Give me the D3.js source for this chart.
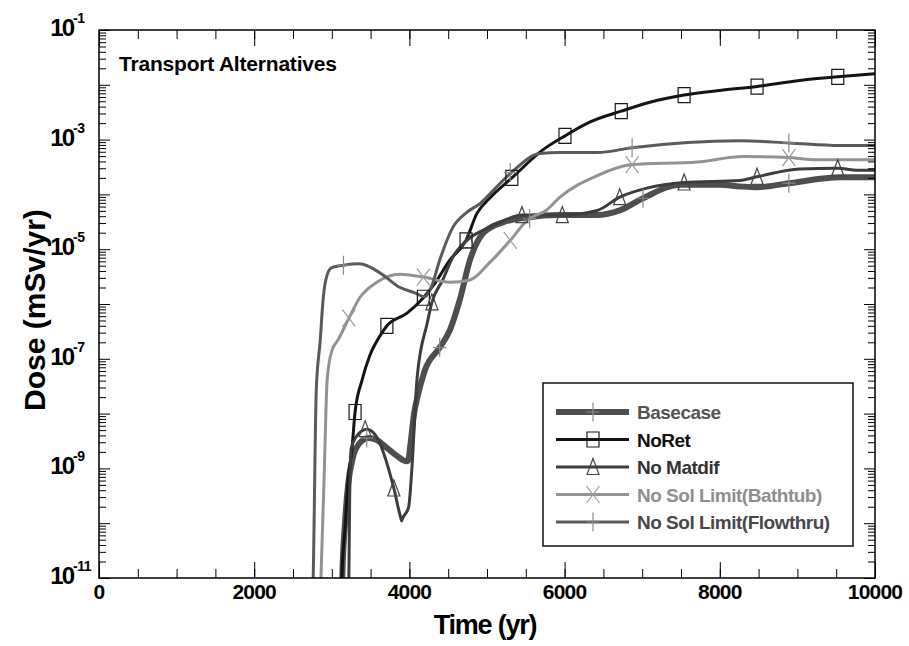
<!DOCTYPE html>
<html>
<head>
<meta charset="utf-8">
<script src="https://cdn.jsdelivr.net/npm/d3@7"></script>
<style>
  html, body { margin: 0; padding: 0; background: #fff; }
  svg { display: block; font-family: "Liberation Sans", Arial, sans-serif; font-weight: bold; }
</style>
</head>
<body>
<svg id="chart" width="909" height="646"></svg>
<script>
// ---- data: time (yr) and dose (mSv/yr) per transport alternative ----
const baseT = [3120, 3135, 3170, 3210, 3270, 3350, 3470, 3580, 3690, 3850, 3960, 3985, 4010, 4060, 4110, 4200, 4390, 4520, 4650, 4780, 4950, 5210, 5520, 5940, 6420, 6710, 7010, 7490, 8000, 8260, 8480, 8890, 9550, 10000];
const baseD = [1e-12, 1e-11, 1e-10, 5e-10, 1.55e-9, 2.8e-9, 3.6e-9, 3.3e-9, 2.5e-9, 1.65e-9, 1.35e-9, 1.4e-9, 2.5e-9, 1e-8, 2.2e-8, 6.2e-8, 1.6e-7, 3.3e-7, 1.2e-6, 6.3e-6, 1.95e-5, 3.1e-5, 3.8e-5, 4.2e-5, 4.2e-5, 5.1e-5, 8.5e-5, 1.5e-4, 1.5e-4, 1.4e-4, 1.35e-4, 1.6e-4, 2.05e-4, 2.05e-4];
const baseMarkT = [3450, 4390, 5550, 7010, 8890];
const baseMarkD = [3.6e-9, 1.6e-7, 3.6e-5, 8.5e-5, 1.6e-4];

const noRetT = [3120, 3130, 3170, 3210, 3260, 3300, 3390, 3490, 3620, 3710, 3970, 4180, 4330, 4520, 4730, 4870, 5040, 5320, 5720, 6005, 6330, 6730, 7100, 7540, 8000, 8480, 9030, 9520, 10000];
const noRetD = [1e-12, 1e-11, 8e-11, 6e-10, 2.3e-9, 1.07e-8, 4.1e-8, 1.15e-7, 2.6e-7, 4.0e-7, 6.8e-7, 1.3e-6, 2.4e-6, 6.3e-6, 1.45e-5, 4.5e-5, 8.7e-5, 2.0e-4, 6.5e-4, 1.17e-3, 2.1e-3, 3.3e-3, 4.8e-3, 6.5e-3, 7.9e-3, 9.3e-3, 1.2e-2, 1.4e-2, 1.6e-2];
const noRetMarkT = [3300, 3710, 4180, 4730, 5320, 6005, 6730, 7540, 8480, 9520];
const noRetMarkD = [1.07e-8, 4.0e-7, 1.3e-6, 1.45e-5, 2.0e-4, 1.17e-3, 3.3e-3, 6.5e-3, 9.3e-3, 1.4e-2];

const matdifT = [3210, 3220, 3230, 3250, 3310, 3450, 3560, 3800, 3885, 3900, 3915, 3990, 4030, 4100, 4230, 4290, 4430, 4560, 4740, 5000, 5170, 5450, 5970, 6420, 6710, 7060, 7540, 8260, 8480, 9030, 9520, 9770, 10000];
const matdifD = [1e-12, 1e-11, 2.6e-10, 2.3e-9, 3.7e-9, 5.2e-9, 4.1e-9, 4.3e-10, 1.3e-10, 1.1e-10, 1.25e-10, 1.95e-10, 9e-10, 4.6e-8, 4.5e-7, 1.07e-6, 2.75e-6, 7.2e-6, 1.45e-5, 2.4e-5, 3.1e-5, 4.2e-5, 4.2e-5, 5.1e-5, 8.9e-5, 1.3e-4, 1.65e-4, 1.8e-4, 2.1e-4, 2.9e-4, 3.0e-4, 2.75e-4, 2.75e-4];
const matdifMarkT = [3430, 3800, 4290, 4760, 5450, 5970, 6710, 7540, 8480, 9520];
const matdifMarkD = [5.2e-9, 4.3e-10, 1.07e-6, 1.45e-5, 4.2e-5, 4.2e-5, 8.9e-5, 1.65e-4, 2.1e-4, 3.0e-4];

const bathT = [2840, 2860, 2900, 2940, 3000, 3080, 3220, 3360, 3580, 3880, 4180, 4520, 4780, 5040, 5300, 5520, 5770, 5940, 6420, 6870, 7710, 8300, 8890, 9200, 10000];
const bathD = [1e-12, 1e-11, 6e-10, 4.1e-8, 1.4e-7, 2.2e-7, 5.5e-7, 1.3e-6, 2.5e-6, 3.5e-6, 3.1e-6, 2.5e-6, 2.75e-6, 5.8e-6, 1.45e-5, 3.4e-5, 5.2e-5, 8.9e-5, 2.2e-4, 3.5e-4, 3.9e-4, 4.9e-4, 4.7e-4, 4.3e-4, 4.3e-4];
const bathMarkT = [3220, 4180, 5300, 6870, 8890];
const bathMarkD = [5.5e-7, 3.1e-6, 1.45e-5, 3.5e-4, 4.7e-4];

const flowT = [2740, 2760, 2800, 2850, 2890, 2940, 3000, 3150, 3360, 3620, 3880, 4070, 4200, 4280, 4390, 4560, 4740, 4910, 5170, 5340, 5680, 5940, 6420, 6870, 8260, 8890, 9550, 10000];
const flowD = [1e-12, 1e-11, 2.7e-8, 2.1e-7, 1.3e-6, 3.4e-6, 4.6e-6, 5.1e-6, 5.4e-6, 3.7e-6, 2.0e-6, 1.6e-6, 1.35e-6, 2.0e-6, 6.3e-6, 2.5e-5, 4.7e-5, 6.8e-5, 1.6e-4, 2.7e-4, 5.6e-4, 5.8e-4, 5.8e-4, 7.1e-4, 9.5e-4, 8.7e-4, 7.8e-4, 7.8e-4];
const flowMarkT = [3150, 5300, 6870, 8890];
const flowMarkD = [5.1e-6, 2.5e-4, 7.1e-4, 8.7e-4];

const seriesNames = ["Basecase", "NoRet", "No Matdif", "No Sol Limit(Bathtub)", "No Sol Limit(Flowthru)"];
const xTickLabels = ["0", "2000", "4000", "6000", "8000", "10000"];
const yLabelExponents = ["-1", "-3", "-5", "-7", "-9", "-11"];
const chartTitle = "Transport Alternatives";

// ---- layout ----
const plot = { left: 99, right: 875, top: 30, bottom: 578 };
const svg = d3.select("#chart");

const x = d3.scaleLinear().domain([0, 10000]).range([plot.left, plot.right]);
const y = d3.scaleLog().domain([1e-11, 1e-1]).range([plot.bottom, plot.top]);

const styles = [
  { t: baseT, d: baseD, mt: baseMarkT, md: baseMarkD, color: "#4e4e4e", width: 6, marker: "plus", mcolor: "#8a8a8a", text: "#555555" },
  { t: noRetT, d: noRetD, mt: noRetMarkT, md: noRetMarkD, color: "#141414", width: 3, marker: "square", mcolor: "#1a1a1a", text: "#111111" },
  { t: matdifT, d: matdifD, mt: matdifMarkT, md: matdifMarkD, color: "#3d3d3d", width: 3, marker: "triangle", mcolor: "#444444", text: "#333333" },
  { t: bathT, d: bathD, mt: bathMarkT, md: bathMarkD, color: "#939393", width: 3, marker: "cross", mcolor: "#9a9a9a", text: "#8f8f8f" },
  { t: flowT, d: flowD, mt: flowMarkT, md: flowMarkD, color: "#5a5a5a", width: 3, marker: "plus", mcolor: "#8a8a8a", text: "#484848" }
];

// marker shapes (w x h box, hollow)
const MW = 13, MH = 17;
function markerPath(kind, cx, cy) {
  const p = d3.path();
  const hw = MW / 2, hh = MH / 2;
  if (kind === "square") {
    p.rect(cx - hw + 0.5, cy - hh + 1, MW - 1, MH - 2);
  } else if (kind === "triangle") {
    p.moveTo(cx, cy - hh); p.lineTo(cx + hw - 0.5, cy + hh - 1); p.lineTo(cx - hw + 0.5, cy + hh - 1); p.closePath();
  } else if (kind === "cross") {
    p.moveTo(cx - hw, cy - hh); p.lineTo(cx + hw, cy + hh);
    p.moveTo(cx + hw, cy - hh); p.lineTo(cx - hw, cy + hh);
  } else {
    p.moveTo(cx, cy - hh - 1); p.lineTo(cx, cy + hh + 1);
    p.moveTo(cx - hw, cy); p.lineTo(cx + hw, cy);
  }
  return p.toString();
}

svg.append("defs").append("clipPath").attr("id", "plotClip")
  .append("rect")
  .attr("x", plot.left).attr("y", plot.top)
  .attr("width", plot.right - plot.left).attr("height", plot.bottom - plot.top);

// ---- curves ----
const line = d3.line()
  .x(p => x(p[0]))
  .y(p => y(p[1]))
  .curve(d3.curveMonotoneX);

const curves = svg.append("g").attr("clip-path", "url(#plotClip)");
styles.forEach(s => {
  const pts = s.t.map((t, i) => [t, s.d[i]]);
  curves.append("path")
    .attr("d", line(pts))
    .attr("fill", "none")
    .attr("stroke", s.color)
    .attr("stroke-width", s.width)
    .attr("stroke-linejoin", "round");
});
styles.forEach(s => {
  s.mt.forEach((t, i) => {
    curves.append("path")
      .attr("d", markerPath(s.marker, x(t), y(s.md[i])))
      .attr("fill", "none")
      .attr("stroke", s.mcolor)
      .attr("stroke-width", 1.2);
  });
});

// ---- axes (ticks point inward on all four sides) ----
const xMinor = d3.range(0, 10001, 500);
const xMajor = d3.range(0, 10001, 2000);
const yAll = y.ticks(20);
const isDecade = v => Math.abs(Math.log10(v) - Math.round(Math.log10(v))) < 1e-6;
const yMajor = yAll.filter(isDecade);
const yMinor = yAll.filter(v => !isDecade(v));

function styleAxis(g) {
  g.select(".domain").remove();
  g.selectAll(".tick line").attr("stroke", "#000").attr("stroke-width", 1);
}

const tickSet = [
  { axis: d3.axisBottom(x).tickValues(xMinor).tickSize(-9), tr: `translate(0,${plot.bottom})` },
  { axis: d3.axisBottom(x).tickValues(xMajor).tickSize(-16), tr: `translate(0,${plot.bottom})` },
  { axis: d3.axisTop(x).tickValues(xMinor).tickSize(-9), tr: `translate(0,${plot.top})` },
  { axis: d3.axisTop(x).tickValues(xMajor).tickSize(-16), tr: `translate(0,${plot.top})` },
  { axis: d3.axisLeft(y).tickValues(yMinor).tickSize(-7), tr: `translate(${plot.left},0)` },
  { axis: d3.axisLeft(y).tickValues(yMajor).tickSize(-11), tr: `translate(${plot.left},0)` },
  { axis: d3.axisRight(y).tickValues(yMinor).tickSize(-7), tr: `translate(${plot.right},0)` },
  { axis: d3.axisRight(y).tickValues(yMajor).tickSize(-11), tr: `translate(${plot.right},0)` }
];
tickSet.forEach(ts => {
  const g = svg.append("g").attr("transform", ts.tr).call(ts.axis.tickFormat(""));
  styleAxis(g);
});

// frame
svg.append("rect")
  .attr("x", plot.left).attr("y", plot.top)
  .attr("width", plot.right - plot.left).attr("height", plot.bottom - plot.top)
  .attr("fill", "none").attr("stroke", "#000").attr("stroke-width", 1.5);

// x tick labels
svg.append("g").selectAll("text")
  .data(xMajor)
  .join("text")
  .attr("x", d => x(d))
  .attr("y", 599)
  .attr("text-anchor", "middle")
  .attr("font-size", 21)
  .attr("letter-spacing", -0.8)
  .attr("fill", "#000")
  .text((d, i) => xTickLabels[i]);

// y tick labels: 10 with superscript exponent
const yLab = svg.append("g");
yLabelExponents.forEach(e => {
  const v = Math.pow(10, +e);
  const yy = y(v);
  yLab.append("text")
    .attr("x", 73).attr("y", yy + 6)
    .attr("text-anchor", "end")
    .attr("font-size", 24)
    .attr("letter-spacing", -2)
    .attr("fill", "#000")
    .text("10");
  yLab.append("text")
    .attr("x", 73).attr("y", yy - 7)
    .attr("font-size", 14)
    .attr("letter-spacing", -0.5)
    .attr("fill", "#000")
    .text(e);
});

// axis titles
svg.append("text")
  .attr("x", 485).attr("y", 634)
  .attr("text-anchor", "middle")
  .attr("font-size", 27)
  .attr("letter-spacing", -1.2)
  .attr("fill", "#000")
  .text("Time (yr)");

svg.append("text")
  .attr("transform", "translate(45,310) rotate(-90)")
  .attr("text-anchor", "middle")
  .attr("font-size", 30)
  .attr("fill", "#000")
  .text("Dose (mSv/yr)");

// chart title inside the plot
svg.append("text")
  .attr("x", 119).attr("y", 71)
  .attr("font-size", 21)
  .attr("letter-spacing", -0.2)
  .attr("fill", "#000")
  .text(chartTitle);

// ---- legend ----
const legend = svg.append("g");
legend.append("rect")
  .attr("x", 543).attr("y", 383).attr("width", 310).attr("height", 163)
  .attr("fill", "#fff").attr("stroke", "#111").attr("stroke-width", 1.5);
const rowY = i => 412 + i * 27.5;
styles.forEach((s, i) => {
  const yy = rowY(i);
  legend.append("line")
    .attr("x1", 556).attr("x2", 629).attr("y1", yy).attr("y2", yy)
    .attr("stroke", s.color).attr("stroke-width", s.width);
  legend.append("path")
    .attr("d", markerPath(s.marker, 593, yy))
    .attr("fill", "none").attr("stroke", s.mcolor).attr("stroke-width", 1.2);
  legend.append("text")
    .attr("x", 637).attr("y", yy + 7)
    .attr("font-size", 19)
    .attr("letter-spacing", -0.5)
    .attr("fill", s.text)
    .text(seriesNames[i]);
});
</script>
</body>
</html>
